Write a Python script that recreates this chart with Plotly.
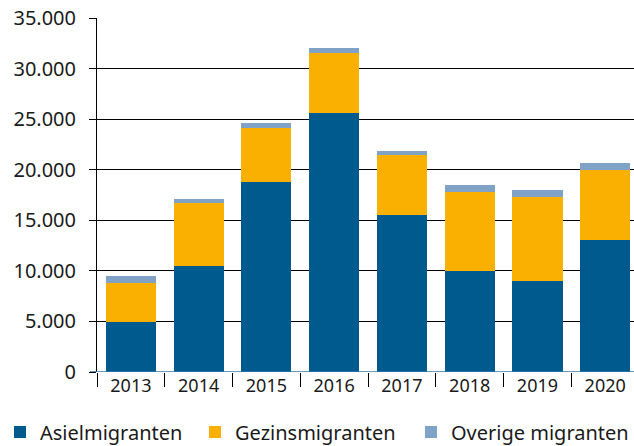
import plotly.graph_objects as go

years = ["2013", "2014", "2015", "2016", "2017", "2018", "2019", "2020"]
asiel = [4950, 10490, 18800, 25630, 15540, 9990, 9000, 13060]
gezins = [3860, 6230, 5340, 5940, 5930, 7820, 8320, 6930]
overige = [690, 400, 500, 490, 400, 690, 690, 690]

series = [
    ("Asielmigranten", asiel, "#005A8E", "legend"),
    ("Gezinsmigranten", gezins, "#F9B000", "legend2"),
    ("Overige migranten", overige, "#7FA2C6", "legend3"),
]

fig = go.Figure()
for name, vals, col, lg in series:
    fig.add_trace(go.Bar(x=years, y=vals, name=name, legend=lg,
                         marker=dict(color=col, line=dict(width=0))))

font = "Noto Sans, Open Sans, sans-serif"
W, H = 634, 446


def leg(xpx):
    return dict(orientation="h", xref="container", yref="container",
                x=xpx / W, y=14 / H, xanchor="left", yanchor="middle",
                font=dict(size=20, family=font, color="#1a1a1a"), itemwidth=30,
                bgcolor="rgba(0,0,0,0)")


fig.update_layout(
    barmode="stack",
    bargap=0.26,
    width=W, height=H,
    margin=dict(l=97, r=0, t=18, b=74),
    paper_bgcolor="white", plot_bgcolor="white",
    separators=",.",
    font=dict(family=font, size=19, color="#1a1a1a"),
    showlegend=True,
    legend=leg(0),
    legend2=leg(195),
    legend3=leg(411),
    xaxis=dict(range=[-0.5, 7.425], showgrid=False, showline=False, zeroline=False,
               ticks="outside", tickson="boundaries", ticklen=14, tickcolor="#000000",
               tickwidth=1, ticklabelstandoff=1, tickfont=dict(size=18)),
    yaxis=dict(range=[0, 35000], dtick=5000, tickformat=",", showgrid=True,
               gridcolor="#000000", gridwidth=1, showline=True, linecolor="#000000",
               linewidth=1, ticks="outside", ticklen=7, tickcolor="#000000",
               zeroline=False, tickfont=dict(size=20), ticklabelstandoff=9),
)
fig.add_shape(type="line", xref="paper", yref="y", x0=-7/537, x1=1, y0=0, y1=0,
              line=dict(color="#3A78AB", width=1.5), layer="above")

fig.write_html("out.html", config={"displayModeBar": False},
               post_script="document.body.style.margin='0';document.body.style.overflow='hidden';")
